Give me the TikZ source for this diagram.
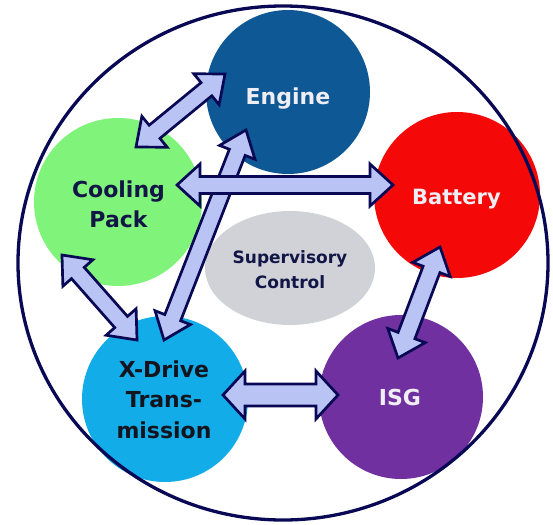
\documentclass[tikz,border=0pt]{standalone}
\usepackage{fontspec}
\setmainfont{DejaVu Sans}
\usetikzlibrary{calc,shapes.geometric}
\definecolor{engc}{RGB}{14,88,150}
\definecolor{batc}{RGB}{245,8,8}
\definecolor{coolc}{RGB}{128,244,122}
\definecolor{xdc}{RGB}{18,172,232}
\definecolor{isgc}{RGB}{112,48,160}
\definecolor{supc}{RGB}{208,210,216}
\definecolor{arrowfill}{RGB}{185,196,245}
\definecolor{navy}{RGB}{8,8,84}
\definecolor{darktext}{RGB}{18,22,70}
\definecolor{blacktext}{RGB}{20,20,30}
\definecolor{whitetext}{RGB}{238,238,244}
\newcommand{\blockarrow}[5]{%
  \draw[arr] (#1)
   -- ($(#1)!#5!(#2)!#4!90:(#2)$)
   -- ($(#1)!#5!(#2)!#3!90:(#2)$)
   -- ($(#2)!#5!(#1)!#3!-90:(#1)$)
   -- ($(#2)!#5!(#1)!#4!-90:(#1)$)
   -- (#2)
   -- ($(#2)!#5!(#1)!#4!90:(#1)$)
   -- ($(#2)!#5!(#1)!#3!90:(#1)$)
   -- ($(#1)!#5!(#2)!#3!-90:(#2)$)
   -- ($(#1)!#5!(#2)!#4!-90:(#2)$)
   -- cycle;}
\begin{document}
\begin{tikzpicture}[x=1pt,y=-1pt,
  ball/.style={circle, inner sep=0pt, minimum size=#1},
  lbl/.style={font=\bfseries\fontsize{22}{30.5}\selectfont, align=center, inner sep=0pt},
  arr/.style={fill=arrowfill, draw=navy, line width=2.7pt, line join=miter}]
\useasboundingbox (0,0) rectangle (553,524);
% coloured circles
\node[ball=164pt, fill=engc] (engine) at (288,92) {};
\node[ball=166pt, fill=batc] (battery) at (457,195) {};
\node[ball=168pt, fill=coolc] (cooling) at (118,202) {};
\node[ball=166pt, fill=xdc] (xdrive) at (165,399) {};
\node[ball=164pt, fill=isgc] (isg) at (401,397) {};
% outer ring
\node[ellipse, draw=navy, line width=3.3pt, minimum width=530pt, minimum height=514pt, inner sep=0pt] (ring) at (283,263) {};
% supervisory ellipse
\node[ellipse, fill=supc, minimum width=170pt, minimum height=114pt, inner sep=0pt] (sup) at (290,268) {};
% labels
\node[lbl, anchor=base, text=whitetext] (engineT) at (288,104) {Engine};
\node[lbl, anchor=base, text=whitetext, font=\bfseries\fontsize{21}{30}\selectfont] (batteryT) at (456.5,204) {Battery};
\node[lbl, anchor=north, text=darktext] (coolingT) at (118.5,180.3) {Cooling\\Pack};
\node[lbl, anchor=north, text=blacktext] (xdriveT) at (164,360.3) {X-Drive\\Trans-\\mission};
\node[lbl, anchor=base, text=whitetext] (isgT) at (400,405) {ISG};
\node[lbl, anchor=north, text=darktext, font=\bfseries\fontsize{17}{25}\selectfont] (supT) at (290,250) {Supervisory\\Control};
% arrow tips
\coordinate (ceA) at (136,147);
\coordinate (ceB) at (225,74);
\coordinate (xeA) at (164,340);
\coordinate (xeB) at (246,130);
\coordinate (cbA) at (177,185);
\coordinate (cbB) at (393,185);
\coordinate (cxA) at (62,255);
\coordinate (cxB) at (137,340);
\coordinate (xiA) at (223,395);
\coordinate (xiB) at (338,395);
\coordinate (biA) at (440,247);
\coordinate (biB) at (398,358);
% arrows
\blockarrow{ceA}{ceB}{8.5pt}{20pt}{24pt}
\blockarrow{xeA}{xeB}{8.5pt}{19pt}{24pt}
\blockarrow{cbA}{cbB}{8.5pt}{21pt}{23pt}
\blockarrow{cxA}{cxB}{8.5pt}{20pt}{24pt}
\blockarrow{xiA}{xiB}{11pt}{24pt}{22pt}
\blockarrow{biA}{biB}{9pt}{20pt}{24pt}
\end{tikzpicture}
\end{document}
